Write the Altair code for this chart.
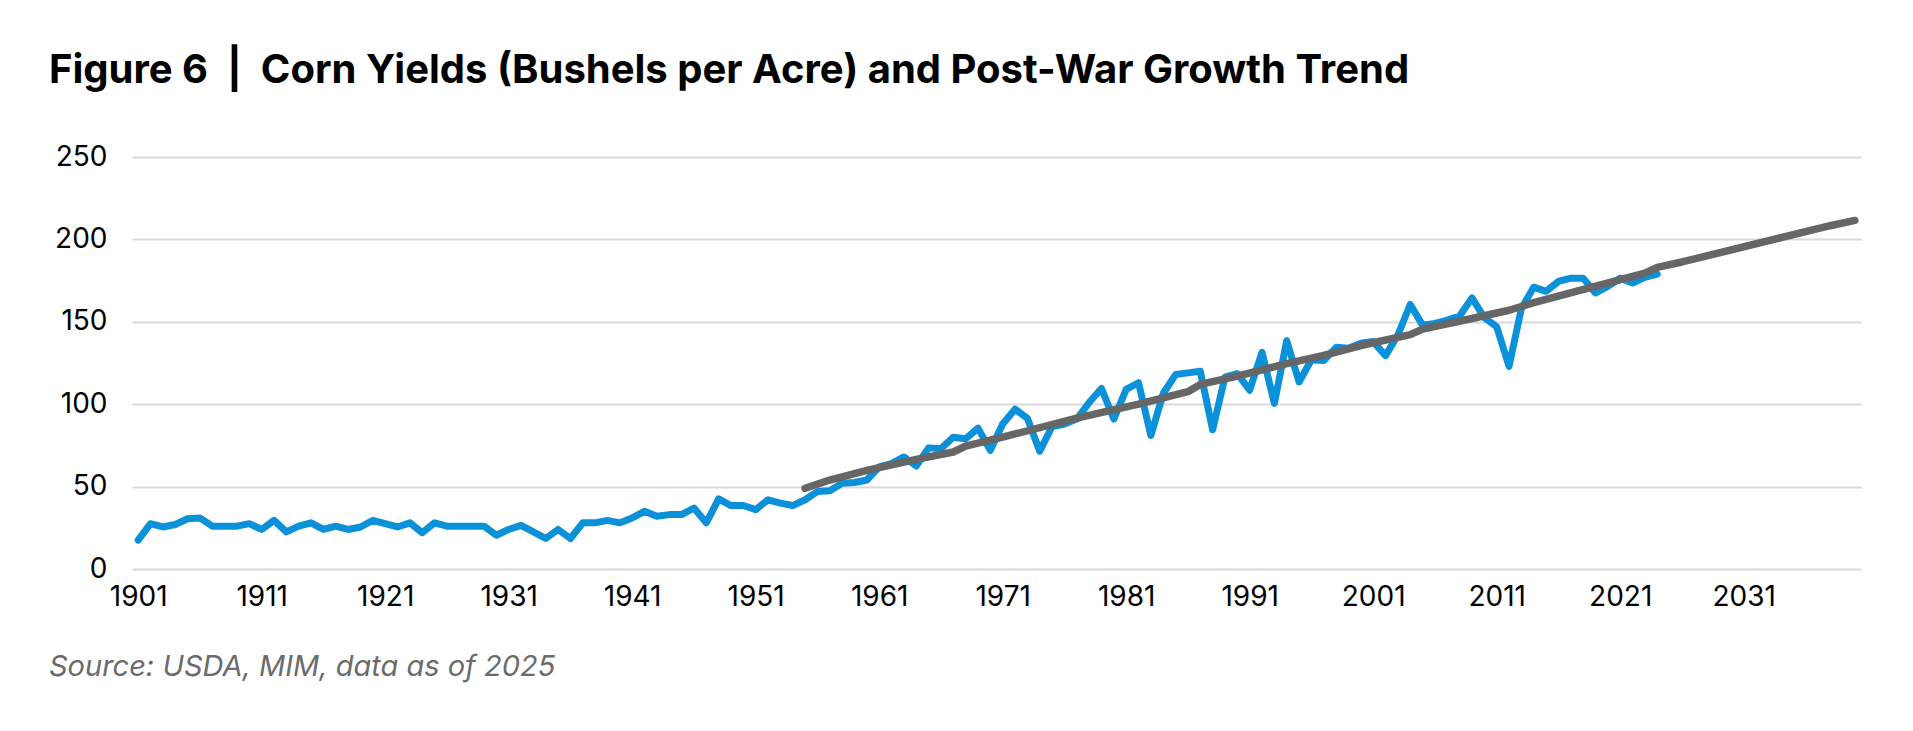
import altair as alt
import pandas as pd

# ---- data ----
years = list(range(1901, 2025))
yields = [
    17.5, 27.5, 25.5, 27.0, 30.5, 31.0, 26.0, 26.0, 26.0, 27.5,   # 1901-1910
    24.0, 29.5, 22.5, 26.0, 28.0, 24.0, 26.0, 24.0, 25.5, 29.5,   # 1911-1920
    27.5, 25.5, 28.0, 22.0, 28.0, 26.0, 26.0, 26.0, 26.0, 20.5,   # 1921-1930
    24.0, 26.5, 22.5, 18.5, 24.0, 18.5, 28.0, 28.0, 29.5, 28.0,   # 1931-1940
    31.0, 35.0, 32.0, 33.0, 33.0, 37.0, 28.0, 42.5, 38.5, 38.5,   # 1941-1950
    36.0, 42.0, 40.0, 38.5, 42.0, 47.0, 47.5, 52.0, 52.5, 54.0,   # 1951-1960
    62.0, 64.0, 68.0, 62.5, 73.5, 73.0, 80.0, 79.0, 85.5, 72.0,   # 1961-1970
    88.0, 97.0, 91.5, 71.5, 86.5, 88.0, 91.0, 101.0, 109.5, 91.0, # 1971-1980
    109.0, 113.0, 81.0, 106.5, 118.0, 119.0, 120.0, 84.5, 116.5, 118.5,  # 1981-1990
    108.5, 131.5, 100.5, 138.5, 113.5, 127.0, 126.5, 134.5, 134.0, 137.0, # 1991-2000
    138.0, 129.5, 142.0, 160.5, 148.0, 149.0, 151.0, 153.5, 164.5, 152.5, # 2001-2010
    147.0, 123.0, 158.0, 171.0, 168.5, 174.5, 176.5, 176.5, 167.5, 171.5, # 2011-2020
    176.5, 173.5, 177.0, 179.0,                                            # 2021-2024
]

trend_years = [1955, 1957, 1960, 1964, 1967, 1968, 1971, 1977, 1982, 1986,
               1987, 1990, 1994, 1997, 2000, 2004, 2005, 2009, 2012, 2014,
               2023, 2024, 2026, 2038, 2040]
trend_values = [49.0, 54.0, 59.8, 66.5, 71.0, 74.5, 80.0, 91.5, 100.0, 107.6,
                112.0, 117.0, 124.6, 129.6, 135.6, 142.2, 145.6, 152.0, 157.0, 161.6,
                179.5, 183.0, 186.3, 208.3, 211.5]

x_ticks = list(range(1901, 2032, 10))
y_ticks = [0, 50, 100, 150, 200, 250]

NB = "\u00a0"
TITLE = "Figure 6" + NB * 2 + "|" + NB * 2 + "Corn Yields (Bushels per Acre) and Post-War Growth Trend"
SOURCE = "Source: USDA, MIM, data as of 2025"

FONT = "Inter"

yield_df = pd.DataFrame({"year": years, "value": yields})
trend_df = pd.DataFrame({"year": trend_years, "value": trend_values})

x_enc = alt.X(
    "year:Q",
    scale=alt.Scale(domain=[1900.5, 2040.5], nice=False, zero=False),
    axis=alt.Axis(
        values=x_ticks, format="d", grid=False, domain=False, ticks=False,
        labelPadding=14, labelFontSize=28, labelFont=FONT, labelColor="#000000",
        labelFlush=False, labelOverlap=False, title=None,
    ),
)
y_enc = alt.Y(
    "value:Q",
    scale=alt.Scale(domain=[0, 250], nice=False, zero=True),
    axis=alt.Axis(
        values=y_ticks, grid=True, gridColor="#d9d9d9", gridWidth=2,
        domain=False, ticks=False, labelPadding=25, labelFontSize=28,
        labelFont=FONT, labelColor="#000000", title=None,
    ),
)

blue = alt.Chart(yield_df).mark_line(
    color="#0a91d9", strokeWidth=7, strokeJoin="round", strokeCap="round"
).encode(x=x_enc, y=y_enc)

gray = alt.Chart(trend_df).mark_line(
    color="#666666", strokeWidth=7.5, strokeJoin="round", strokeCap="round"
).encode(x="year:Q", y="value:Q")

title_txt = alt.Chart(pd.DataFrame({"t": [TITLE]})).mark_text(
    align="left", baseline="alphabetic", fontSize=40, fontWeight="bold",
    font=FONT, color="#000000"
).encode(x=alt.value(-83), y=alt.value(-74), text="t:N")

source_txt = alt.Chart(pd.DataFrame({"t": [SOURCE]})).mark_text(
    align="left", baseline="alphabetic", fontSize=29, fontStyle="italic",
    font=FONT, color="#6b6b6b"
).encode(x=alt.value(-83), y=alt.value(519), text="t:N")

chart = alt.layer(blue, gray, title_txt, source_txt).properties(
    width=1729,
    height=412,
    autosize=alt.AutoSizeParams(type="none"),
    padding={"left": 124, "top": 149, "right": 30, "bottom": 140},
    background="white",
).configure_view(stroke=None)

chart.save("out.html", embed_options={"renderer": "svg", "actions": False})
